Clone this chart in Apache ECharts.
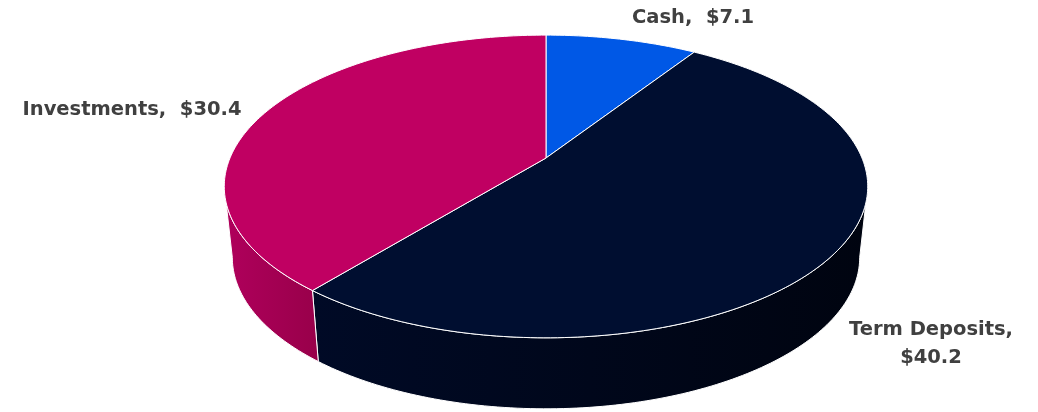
<!DOCTYPE html>
<html>
<head>
<meta charset="utf-8">
<script src="https://cdn.jsdelivr.net/npm/echarts@6/dist/echarts.min.js"></script>
<style>
  html, body { margin: 0; padding: 0; background: #fff; }
  #chart { width: 1038px; height: 412px; }
</style>
</head>
<body>
<div id="chart"></div>
<script>
// data
const categories = ['Cash', 'Term Deposits', 'Investments']
const amounts = [7.1, 40.2, 30.4]
const labelTexts = ['Cash,  $7.1', 'Term Deposits,\n$40.2', 'Investments,  $30.4']

// colours (top face / side gradient)
const topColors = ['#0058e6', '#000e30', '#c00062']
const sideColors = [['#0046b8', '#003690'], ['#000a26', '#000410'], ['#b0005c', '#98004a']]

// 3d-ish projection of the pie disc
const CX = 546, CY = 158
const A = 316, B = 146, K = 0.188
const DEPTH = 71, SHRINK = 0.975
const T_RIGHT = Math.acos(-K) * 180 / Math.PI
const T_LEFT = 360 - T_RIGHT

const total = amounts.reduce((s, v) => s + v, 0)
const starts = []
let acc = 0
amounts.forEach(v => { starts.push(acc / total * 360); acc += v })

function proj(deg, down) {
  const r = deg * Math.PI / 180
  const u = Math.sin(r), v = Math.cos(r)
  const d = 1 + K * v
  let x = CX + A * u / d
  let y = CY - B * v / d
  if (down) { x = CX + (x - CX) * SHRINK; y += DEPTH }
  return [x, y]
}

function arc(a, b, down) {
  const pts = []
  const n = Math.max(2, Math.ceil(Math.abs(b - a)))
  for (let i = 0; i <= n; i++) pts.push(proj(a + (b - a) * i / n, down))
  return pts
}

// label anchors (layout only)
const labelLayout = [
  { x: 693, y: 18, align: 'center' },
  { x: 931, y: 344, align: 'center' },
  { x: 132, y: 110, align: 'center' },
]

const chart = echarts.init(document.getElementById('chart'))
chart.setOption({
  animation: false,
  series: [
    {
      type: 'custom',
      name: 'side',
      coordinateSystem: 'none',
      z: 1,
      data: amounts,
      renderItem: (params, api) => {
        const i = params.dataIndex
        const t1 = starts[i], t2 = t1 + api.value(0) / total * 360
        const a = Math.max(t1, T_RIGHT), b = Math.min(t2, T_LEFT)
        if (a >= b) return { type: 'group', children: [] }
        const pts = arc(a, b, false).concat(arc(b, a, true))
        return {
          type: 'polygon',
          shape: { points: pts },
          style: {
            fill: new echarts.graphic.LinearGradient(0, 0, 1, 0, [
              { offset: 0, color: sideColors[i][0] },
              { offset: 1, color: sideColors[i][1] },
            ]),
            stroke: '#ffffff',
            lineWidth: 1,
          },
        }
      },
    },
    {
      type: 'custom',
      name: 'top',
      coordinateSystem: 'none',
      z: 2,
      data: amounts,
      renderItem: (params, api) => {
        const i = params.dataIndex
        const t1 = starts[i], t2 = t1 + api.value(0) / total * 360
        const pts = [[CX, CY]].concat(arc(t1, t2, false))
        const lab = labelLayout[i]
        return {
          type: 'group',
          children: [
            {
              type: 'polygon',
              shape: { points: pts },
              style: { fill: topColors[i], stroke: '#ffffff', lineWidth: 1 },
            },
            {
              type: 'text',
              x: lab.x,
              y: lab.y,
              style: {
                text: labelTexts[i],
                fill: '#404040',
                font: 'bold 19.5px "DejaVu Sans", sans-serif',
                align: lab.align,
                verticalAlign: 'middle',
                lineHeight: 28,
              },
            },
          ],
        }
      },
    },
  ],
})
</script>
</body>
</html>
